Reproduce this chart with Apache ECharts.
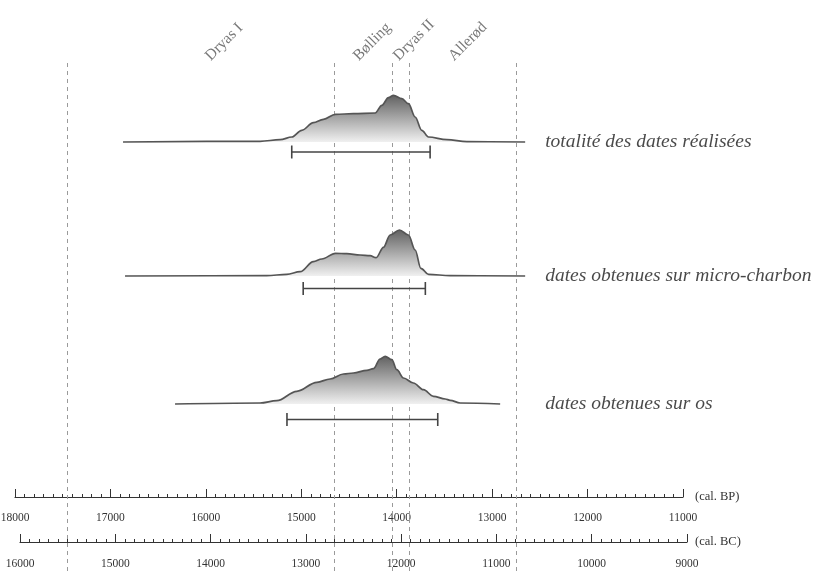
<!DOCTYPE html>
<html><head><meta charset="utf-8">
<script src="https://cdn.jsdelivr.net/npm/echarts@6/dist/echarts.min.js"></script>
<style>html,body{margin:0;padding:0;background:#fff}#c{width:813px;height:571px}</style>
</head><body><div id="c"></div>
<script>
// ---------- data (years cal. BP) ----------
const periodBoundaries = [17450, 14650, 14050, 13870, 12750];
const periodNames = ['Dryas I', 'Bølling', 'Dryas II', 'Allerød'];
const periodLabelAt = [15920, 14370, 13950, 13370];

const seriesNames = ['totalité des dates réalisées', 'dates obtenues sur micro-charbon', 'dates obtenues sur os'];

// [year BP, relative probability]
const densTotal = [[16868,0],[15432,0.7],[15222,2.3],[15099,5],[14995,11.7],[14873,19.3],[14768,22.7],[14642,27.7],[14454,28.3],[14226,29],[14156,36.7],[14087,44.3],[14034,46.7],[13946,43.3],[13877,38.3],[13807,25],[13737,11.7],[13667,5],[13474,2.3],[13265,0.3],[12654,0]];
const densCharbon = [[16847,0],[15362,0.3],[15152,1.7],[15012,4.3],[14873,14.3],[14785,17],[14642,22.7],[14523,22.3],[14383,21],[14279,20.3],[14216,18.3],[14139,28.7],[14069,41],[13971,46],[13877,41],[13807,26],[13747,7.7],[13667,1.7],[13440,0.3],[12654,0]];
const densOs = [[16323,0],[15432,1],[15257,3.3],[15047,12.7],[14837,21.7],[14698,25],[14558,30],[14454,31],[14313,33.7],[14244,35.3],[14174,45],[14121,47.7],[14051,44.3],[13999,34.3],[13929,26],[13825,21],[13720,14.3],[13615,7.7],[13492,5],[13440,3.7],[13335,1],[12916,0]];

const rangeTotal = [15100, 13650];
const rangeCharbon = [14980, 13700];
const rangeOs = [15150, 13570];

const bcMin = 9000, bcMax = 16000;

// ---------- layout ----------
const densities = [densTotal, densCharbon, densOs];
const ranges = [rangeTotal, rangeCharbon, rangeOs];
const baselines = [355, 221, 93];
const barOffsets = [-10, -12.5, -15.5];
const labelDistances = [20, 20, 45];
const serif = "'Liberation Serif','DejaVu Serif',serif";

const chart = echarts.init(document.getElementById('c'));
const series = [];

// period boundaries (dashed) - behind curves
series.push({
  type: 'line', xAxisIndex: 0, yAxisIndex: 0, data: [], z: 1,
  markLine: {
    silent: true, z: 1, symbol: ['none', 'none'], label: { show: false },
    lineStyle: { type: [4, 4], color: '#9a9a9a', width: 1 },
    data: periodBoundaries.map(v => ({ xAxis: v }))
  }
});

densities.forEach((d, i) => {
  const base = baselines[i];
  series.push({
    type: 'line', name: seriesNames[i], xAxisIndex: 0, yAxisIndex: 0, z: 2,
    data: d.map(p => [p[0], base + p[1]]),
    symbol: 'none', showSymbol: false, smooth: 0.35, smoothMonotone: 'x',
    lineStyle: { color: '#555', width: 1.7 },
    areaStyle: {
      origin: base, opacity: 1,
      color: new echarts.graphic.LinearGradient(0, 0, 0, 1, [
        { offset: 0, color: '#626262' }, { offset: 1, color: '#f0f0f0' }
      ])
    }
  });
  const r = ranges[i];
  const y = base + barOffsets[i];
  series.push({
    type: 'line', xAxisIndex: 0, yAxisIndex: 0, z: 3, silent: true,
    data: [[r[0], y], [r[1], y]],
    symbol: 'rect', symbolSize: [1.6, 13], showSymbol: true,
    itemStyle: { color: '#444' }, lineStyle: { color: '#444', width: 1.6 }
  });
});

// series name labels, anchored at the end of each curve
series.push({
  type: 'scatter', xAxisIndex: 0, yAxisIndex: 0, symbolSize: 0, silent: true, z: 4,
  data: densities.map((d, i) => ({
    value: [d[d.length - 1][0], baselines[i]],
    label: { distance: labelDistances[i] }
  })),
  label: {
    show: true, position: 'right',
    formatter: p => seriesNames[p.dataIndex],
    fontStyle: 'italic', fontSize: 19.5, color: '#1a1a1a', fontFamily: serif
  }
});

// period labels
series.push({
  type: 'scatter', xAxisIndex: 0, yAxisIndex: 0, symbolSize: 0, silent: true,
  data: periodLabelAt.map(v => [v, 433]),
  label: {
    show: true, position: [0, 0], rotate: 45, align: 'left', verticalAlign: 'bottom',
    formatter: p => periodNames[p.dataIndex],
    fontSize: 15.5, color: '#555', fontFamily: serif
  }
});

const axisCommon = {
  type: 'value', inverse: true, interval: 1000, position: 'bottom',
  splitLine: { show: false },
  axisTick: { inside: true, length: 8, lineStyle: { color: '#333', width: 1 } },
  minorTick: { show: true, splitNumber: 10, length: 3, lineStyle: { color: '#333', width: 1 } },
  axisLabel: { color: '#333', fontSize: 11.5, fontFamily: serif,
               showMinLabel: true, showMaxLabel: true, formatter: v => String(v) },
  nameLocation: 'start',
  nameTextStyle: { color: '#333', fontSize: 12.5, fontFamily: serif, verticalAlign: 'middle' }
};

chart.setOption({
  animation: false,
  backgroundColor: '#fff',
  grid: [
    { left: 15, right: 130, top: 62, bottom: 0, containLabel: false, outerBoundsMode: 'none' },
    { left: 20, right: 126, top: 532, height: 10, containLabel: false, outerBoundsMode: 'none' }
  ],
  xAxis: [
    Object.assign({}, axisCommon, {
      gridIndex: 0, min: 11000, max: 18000, name: '(cal. BP)', nameGap: 12, offset: -74,
      axisLabel: Object.assign({}, axisCommon.axisLabel, { margin: 15 }),
      axisLine: { onZero: false, lineStyle: { color: '#333', width: 1.2 } }
    }),
    Object.assign({}, axisCommon, {
      gridIndex: 1, min: bcMin, max: bcMax, name: '(cal. BC)', nameGap: 8,
      axisLabel: Object.assign({}, axisCommon.axisLabel, { margin: 16 }),
      axisLine: { onZero: false, lineStyle: { color: '#333', width: 1.2 } }
    })
  ],
  yAxis: [
    { type: 'value', gridIndex: 0, min: -74, max: 435, show: false },
    { type: 'value', gridIndex: 1, min: 0, max: 1, show: false }
  ],
  series: series
});
</script></body></html>
